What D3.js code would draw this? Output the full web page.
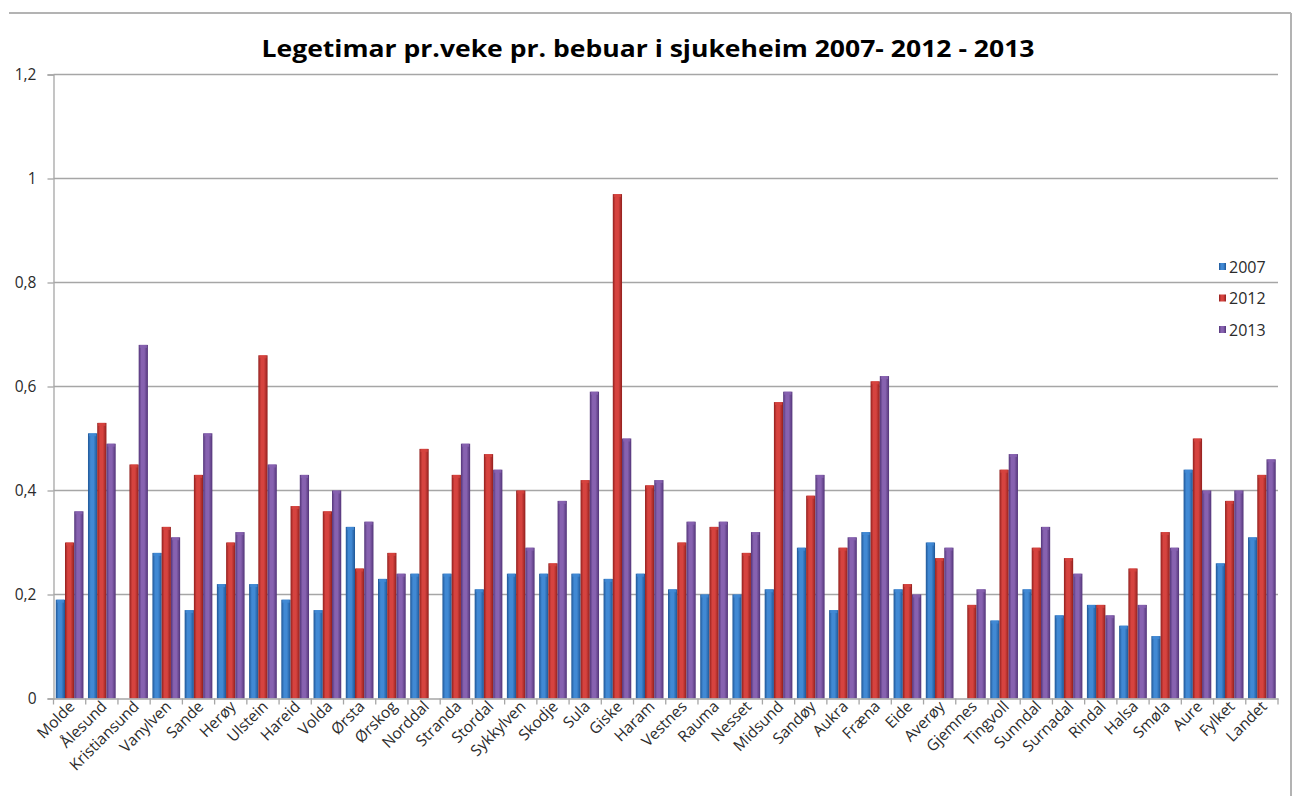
<!DOCTYPE html>
<html>
<head>
<meta charset="utf-8">
<script src="https://cdn.jsdelivr.net/npm/d3@7"></script>
<style>
  body{margin:0;background:#fff;}
  svg text{font-family:"Open Sans","DejaVu Sans",sans-serif;}
</style>
</head>
<body>
<div id="chart"></div>
<script>
// kommunar, same order as in the chart
var categories=["Molde","Ålesund","Kristiansund","Vanylven","Sande","Herøy","Ulstein","Hareid","Volda","Ørsta",
  "Ørskog","Norddal","Stranda","Stordal","Sykkylven","Skodje","Sula","Giske","Haram","Vestnes",
  "Rauma","Nesset","Midsund","Sandøy","Aukra","Fræna","Eide","Averøy","Gjemnes","Tingvoll",
  "Sunndal","Surnadal","Rindal","Halsa","Smøla","Aure","Fylket","Landet"];
var seriesNames=["2007","2012","2013"];
// values (0 = no bar)
var v2007=[0.19,0.51,0,0.28,0.17,0.22,0.22,0.19,0.17,0.33,
  0.23,0.24,0.24,0.21,0.24,0.24,0.24,0.23,0.24,0.21,
  0.20,0.20,0.21,0.29,0.17,0.32,0.21,0.30,0,0.15,
  0.21,0.16,0.18,0.14,0.12,0.44,0.26,0.31];
var v2012=[0.30,0.53,0.45,0.33,0.43,0.30,0.66,0.37,0.36,0.25,
  0.28,0.48,0.43,0.47,0.40,0.26,0.42,0.97,0.41,0.30,
  0.33,0.28,0.57,0.39,0.29,0.61,0.22,0.27,0.18,0.44,
  0.29,0.27,0.18,0.25,0.32,0.50,0.38,0.43];
var v2013=[0.36,0.49,0.68,0.31,0.51,0.32,0.45,0.43,0.40,0.34,
  0.24,0,0.49,0.44,0.29,0.38,0.59,0.50,0.42,0.34,
  0.34,0.32,0.59,0.43,0.31,0.62,0.20,0.29,0.21,0.47,
  0.33,0.24,0.16,0.18,0.29,0.40,0.40,0.46];
var yTicks=[0,0.2,0.4,0.6,0.8,1,1.2];
var title="Legetimar pr.veke pr. bebuar i sjukeheim 2007- 2012 - 2013";

var allSeries=[v2007,v2012,v2013];
var colors=[
  {mid:"#4189d4",edge:"#1f5696"}, // blue
  {mid:"#d6433f",edge:"#911f1d"}, // red
  {mid:"#8762b0",edge:"#523478"}  // purple
];
var textCol="#2b2b2b";

var W=1296,H=796;
var plot={left:53.5,right:1278,top:74.5,bottom:698.5};

var svg=d3.select("#chart").append("svg")
  .attr("width",W).attr("height",H);

// gradients, lighter in the middle of each bar like the excel bevel
var defs=svg.append("defs");
colors.forEach(function(c,i){
  var g=defs.append("linearGradient").attr("id","grad"+i)
    .attr("x1","0%").attr("x2","100%").attr("y1","0%").attr("y2","0%");
  g.append("stop").attr("offset","0%").attr("stop-color",c.edge);
  g.append("stop").attr("offset","30%").attr("stop-color",c.mid);
  g.append("stop").attr("offset","60%").attr("stop-color",c.mid);
  g.append("stop").attr("offset","100%").attr("stop-color",c.edge);
});

// outer chart border (top + right visible)
svg.append("line").attr("x1",9).attr("x2",1291).attr("y1",13).attr("y2",13)
  .attr("stroke","#b3b3b3").attr("stroke-width",2);
svg.append("line").attr("x1",1291).attr("x2",1291).attr("y1",13).attr("y2",H)
  .attr("stroke","#b3b3b3").attr("stroke-width",2);

var x=d3.scaleBand().domain(categories).range([plot.left,plot.right]).paddingInner(0).paddingOuter(0);
var xs=d3.scaleBand().domain(seriesNames).range([0,x.bandwidth()]).paddingInner(0).paddingOuter(0.245);
var y=d3.scaleLinear().domain([0,1.2]).range([plot.bottom,plot.top]);

var fmt=function(d){return d3.format("~g")(d).replace(".",",");};

// gridlines
svg.append("g").selectAll("line").data(yTicks.filter(function(d){return d>0;})).join("line")
  .attr("x1",plot.left).attr("x2",plot.right)
  .attr("y1",function(d){return y(d);}).attr("y2",function(d){return y(d);})
  .attr("stroke","#a6a6a6").attr("stroke-width",1.3);

// y axis
var yAxis=svg.append("g").attr("transform","translate("+plot.left+",0)")
  .call(d3.axisLeft(y).tickValues(yTicks).tickFormat(fmt).tickSize(6).tickPadding(11));
yAxis.attr("font-size",null).attr("font-family",null);
yAxis.select(".domain").attr("stroke","#a6a6a6").attr("stroke-width",1.3);
yAxis.selectAll(".tick line").attr("stroke","#a6a6a6").attr("stroke-width",1.3);
yAxis.selectAll("text").attr("fill",textCol).style("font-size","15.5px");

// bars
var groups=svg.append("g").selectAll("g").data(categories).join("g")
  .attr("transform",function(d){return "translate("+x(d)+",0)";});
groups.selectAll("rect").data(function(d,i){
    return seriesNames.map(function(s,j){return {s:s,j:j,v:allSeries[j][i]};});
  }).join("rect")
  .filter(function(d){return d.v>0;})
  .attr("x",function(d){return xs(d.s);})
  .attr("width",xs.bandwidth())
  .attr("y",function(d){return y(d.v);})
  .attr("height",function(d){return y(0)-y(d.v);})
  .attr("fill",function(d){return "url(#grad"+d.j+")";});
// small lighter cap on top of each bar
groups.selectAll("rect.cap").data(function(d,i){
    return seriesNames.map(function(s,j){return {s:s,j:j,v:allSeries[j][i]};}).filter(function(d){return d.v>0;});
  }).join("rect").attr("class","cap")
  .attr("x",function(d){return xs(d.s)+1;})
  .attr("width",xs.bandwidth()-2)
  .attr("y",function(d){return y(d.v);})
  .attr("height",3)
  .attr("fill",function(d){return colors[d.j].mid;})
  .attr("opacity",0.8);

// x axis
var xAxis=svg.append("g").attr("transform","translate(0,"+plot.bottom+")")
  .call(d3.axisBottom(x).tickSize(0).tickFormat(""));
xAxis.select(".domain").attr("stroke","#a6a6a6").attr("stroke-width",1.3);
// tick marks between categories
var bounds=categories.map(function(c){return x(c);}).concat([plot.right]);
svg.append("g").selectAll("line").data(bounds).join("line")
  .attr("x1",function(d){return d;}).attr("x2",function(d){return d;})
  .attr("y1",plot.bottom).attr("y2",plot.bottom+6)
  .attr("stroke","#a6a6a6").attr("stroke-width",1.3);
// rotated labels
svg.append("g").selectAll("text").data(categories).join("text")
  .attr("transform",function(d){
    return "translate("+(x(d)+x.bandwidth()/2+6)+","+(plot.bottom+9)+") rotate(-45)";
  })
  .attr("text-anchor","end")
  .attr("fill",textCol)
  .style("font-size","15.5px")
  .text(function(d){return d;});

// title
svg.append("text").attr("x",648).attr("y",57).attr("text-anchor","middle")
  .style("font-size","24px").style("font-weight","bold").attr("fill","#000")
  .attr("textLength",773).attr("lengthAdjust","spacingAndGlyphs")
  .text(title);

// legend
var legend=svg.append("g").selectAll("g").data(seriesNames).join("g")
  .attr("transform",function(d,i){return "translate(1219,"+(267+i*31.5)+")";});
legend.append("rect").attr("x",0).attr("y",-4).attr("width",7).attr("height",7)
  .attr("fill",function(d,i){return "url(#grad"+i+")";});
legend.append("text").attr("x",10).attr("y",5.5)
  .attr("fill",textCol).style("font-size","16px")
  .text(function(d){return d;});
</script>
</body>
</html>
